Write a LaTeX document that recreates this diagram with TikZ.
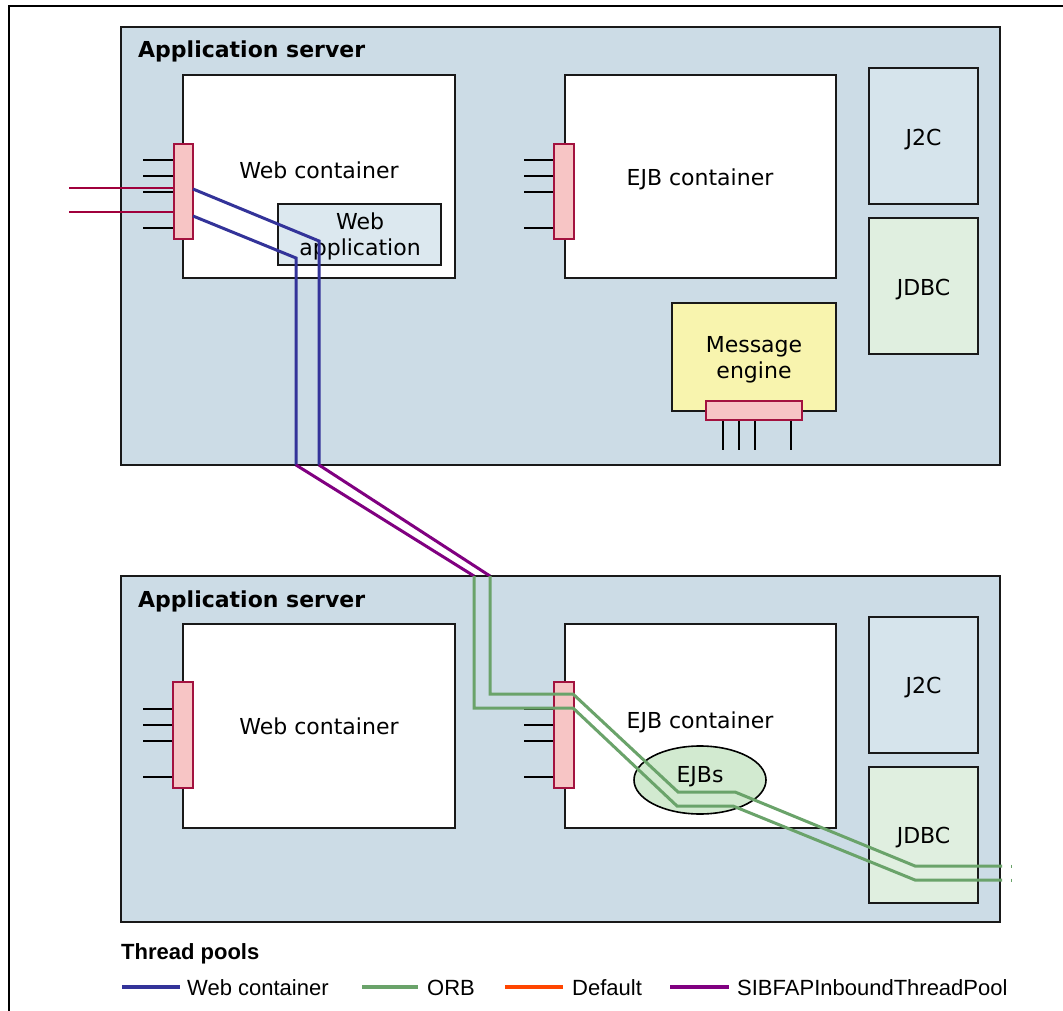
\documentclass[tikz,border=0pt]{standalone}
\usepackage{fontspec}
\setmainfont{DejaVu Sans}
\newfontfamily\legfont{Liberation Sans}
\usetikzlibrary{shapes.geometric}
\definecolor{srvblue}{HTML}{CCDCE6}
\definecolor{webappfill}{HTML}{DCE8EF}
\definecolor{jtwocfill}{HTML}{D6E4EC}
\definecolor{jdbcfill}{HTML}{E0EFE0}
\definecolor{msgfill}{HTML}{F8F4AE}
\definecolor{poolfill}{HTML}{F7C5C5}
\definecolor{poolborder}{HTML}{A3123F}
\definecolor{ejbfill}{HTML}{D2EAD0}
\definecolor{wcblue}{HTML}{333399}
\definecolor{orbgreen}{HTML}{6AA36A}
\definecolor{defred}{HTML}{FF4500}
\definecolor{sibpurple}{HTML}{800080}
\definecolor{inred}{HTML}{A0003C}
\begin{document}
\begin{tikzpicture}[x=1pt,y=-1pt,
  box/.style={draw=black!90, line width=1.9pt, inner sep=0pt, rectangle},
  appsrv/.style={box, fill=srvblue},
  cont/.style={box, fill=white},
  poolbar/.style={draw=poolborder, fill=poolfill, line width=1.6pt, inner sep=0pt, rectangle},
  stub/.style={line width=2pt, black},
  lbl/.style={inner sep=0pt, anchor=base, font=\fontsize{22}{24}\selectfont},
  wcline/.style={wcblue, line width=3pt},
  orbline/.style={orbgreen, line width=3pt},
  sibline/.style={sibpurple, line width=3pt},
  inline/.style={inred, line width=2pt},
  legline/.style={line width=3.6pt},
  leglbl/.style={inner sep=0pt, anchor=base west, font=\legfont\fontsize{22}{24}\selectfont}
]
\useasboundingbox (0,0) rectangle (1063,1011);
% outer frame (open at right and bottom)
\draw[line width=1.5pt] (1063,6) -- (9,6) -- (9,1011);

% ===== top application server =====
\node[appsrv, minimum width=879pt, minimum height=438pt] (srvA) at (560.5,246) {};
\node[inner sep=0pt, anchor=base west, font=\bfseries\fontsize{22}{24}\selectfont] (srvAlbl) at (138,58) {Application server};
\node[cont, minimum width=272pt, minimum height=203pt] (webA) at (319,176.5) {};
\node[lbl] (webAlbl) at (319,179) {Web container};
\node[box, fill=webappfill, minimum width=163pt, minimum height=61pt] (webapp) at (359.5,234.5) {};
\node[lbl] (webappl1) at (360,230) {Web};
\node[lbl] (webappl2) at (360,255) {application};
\node[cont, minimum width=271pt, minimum height=203pt] (ejbA) at (700.5,176.5) {};
\node[lbl] (ejbAlbl) at (700,186) {EJB container};
\node[box, fill=jtwocfill, minimum width=109pt, minimum height=136pt] (jtcA) at (923.5,136) {};
\node[lbl] (jtcAlbl) at (923.5,146) {J2C};
\node[box, fill=jdbcfill, minimum width=109pt, minimum height=136pt] (jdbcA) at (923.5,286) {};
\node[lbl] (jdbcAlbl) at (923.5,295) {JDBC};
\node[box, fill=msgfill, minimum width=164pt, minimum height=108pt] (msg) at (754,357) {};
\node[lbl] (msgl1) at (754,352) {Message};
\node[lbl] (msgl2) at (754,378) {engine};

% stubs
\foreach \yy in {160,176,192,228} \draw[stub] (143,\yy) -- (174,\yy);
\foreach \yy in {160,176,192,228} \draw[stub] (524,\yy) -- (554,\yy);
\foreach \xx in {723,739,755,791} \draw[stub] (\xx,420) -- (\xx,450);
\node[poolbar, minimum width=19pt, minimum height=95pt] (poolWA) at (183.5,191.5) {};
\node[poolbar, minimum width=20pt, minimum height=95pt] (poolEA) at (564,191.5) {};
\node[poolbar, minimum width=96pt, minimum height=19pt] (poolM) at (754,410.5) {};

% incoming requests
\coordinate (inA) at (69,188);
\coordinate (inB) at (69,212);
\draw[inline] (inA) -- (inA -| poolWA.west);
\draw[inline] (inB) -- (inB -| poolWA.west);

% ===== bottom application server =====
\node[appsrv, minimum width=879pt, minimum height=346pt] (srvB) at (560.5,749) {};
\node[inner sep=0pt, anchor=base west, font=\bfseries\fontsize{22}{24}\selectfont] (srvBlbl) at (138,607) {Application server};
\node[cont, minimum width=272pt, minimum height=204pt] (webB) at (319,726) {};
\node[lbl] (webBlbl) at (319,734) {Web container};
\node[cont, minimum width=271pt, minimum height=204pt] (ejbB) at (700.5,726) {};
\node[lbl] (ejbBlbl) at (700,728) {EJB container};
\node[ellipse, draw=black, line width=1.6pt, fill=ejbfill, minimum width=132pt, minimum height=68pt, inner sep=0pt] (ejbs) at (700,780) {};
\node[lbl] (ejbslbl) at (700,782) {EJBs};
\node[box, fill=jtwocfill, minimum width=109pt, minimum height=136pt] (jtcB) at (923.5,685) {};
\node[lbl] (jtcBlbl) at (923.5,693) {J2C};
\node[box, fill=jdbcfill, minimum width=109pt, minimum height=136pt] (jdbcB) at (923.5,835) {};
\node[lbl] (jdbcBlbl) at (923.5,843) {JDBC};

\foreach \yy in {709,725,741,777} \draw[stub] (143,\yy) -- (173,\yy);
\foreach \yy in {709,725,741,777} \draw[stub] (524,\yy) -- (554,\yy);
\node[poolbar, minimum width=20pt, minimum height=106pt] (poolWB) at (183,735) {};
\node[poolbar, minimum width=20pt, minimum height=106pt] (poolEB) at (564,735) {};

% ===== thread paths =====
\coordinate (p1a) at (193,189);
\coordinate (p1b) at (319,241);
\coordinate (p1c) at (319,465);
\coordinate (p1d) at (490,576);
\coordinate (p1e) at (490,694);
\coordinate (p1f) at (573,694);
\coordinate (p1g) at (678,792);
\coordinate (p1h) at (735,792);
\coordinate (p1i) at (915,866);
\coordinate (p1j) at (1002,866);
\coordinate (p2a) at (193,216);
\coordinate (p2b) at (296,258);
\coordinate (p2c) at (296,465);
\coordinate (p2d) at (474,576);
\coordinate (p2e) at (474,708);
\coordinate (p2f) at (573,708);
\coordinate (p2g) at (677,806);
\coordinate (p2h) at (733,806);
\coordinate (p2i) at (915,880);
\coordinate (p2j) at (1002,880);
\draw[wcline, line join=miter] (p1a) -- (p1b) -- (p1c);
\draw[wcline, line join=miter] (p2a) -- (p2b) -- (p2c);
\draw[sibline] (p1c) -- (p1d);
\draw[sibline] (p2c) -- (p2d);
\draw[orbline] (p1d) -- (p1e) -- (p1f) -- (p1g) -- (p1h) -- (p1i) -- (p1j);
\draw[orbline] (p2d) -- (p2e) -- (p2f) -- (p2g) -- (p2h) -- (p2i) -- (p2j);
\draw[orbgreen, line width=1pt] (1011,864.5) -- (1011,867.5);
\draw[orbgreen, line width=1pt] (1011,878.5) -- (1011,881.5);

% ===== legend =====
\node[inner sep=0pt, anchor=base west, font=\legfont\bfseries\fontsize{22}{24}\selectfont] (legtitle) at (121,959) {Thread pools};
\coordinate (lg1a) at (122,987); \coordinate (lg1b) at (180,987);
\coordinate (lg2a) at (362,987); \coordinate (lg2b) at (418,987);
\coordinate (lg3a) at (505,987); \coordinate (lg3b) at (563,987);
\coordinate (lg4a) at (670,987); \coordinate (lg4b) at (729,987);
\draw[legline, wcblue] (lg1a) -- (lg1b);
\draw[legline, orbgreen] (lg2a) -- (lg2b);
\draw[legline, defred] (lg3a) -- (lg3b);
\draw[legline, sibpurple] (lg4a) -- (lg4b);
\node[leglbl] (leg1) at (187,995) {Web container};
\node[leglbl] (leg2) at (427,995) {ORB};
\node[leglbl] (leg3) at (572,995) {Default};
\node[leglbl] (leg4) at (737,995) {SIBFAPInboundThreadPool};
\end{tikzpicture}
\end{document}
